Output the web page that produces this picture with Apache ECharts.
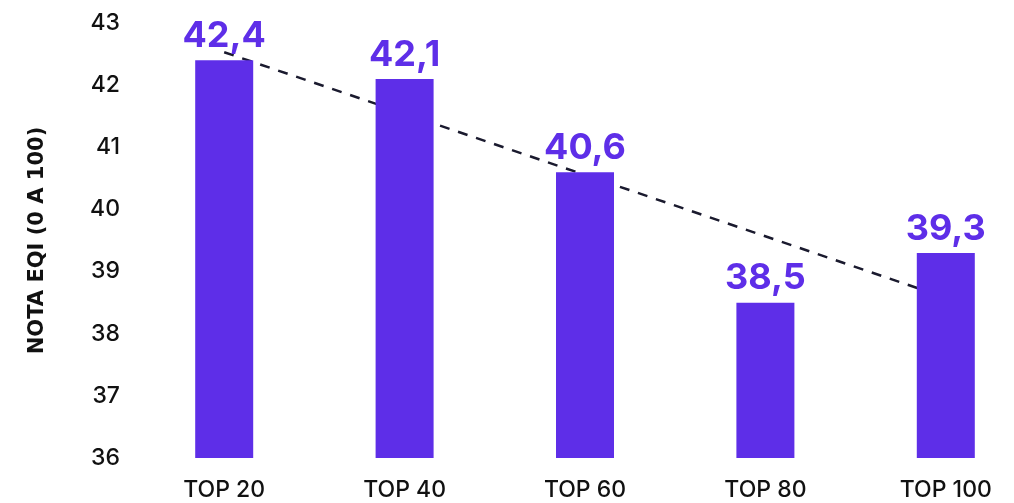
<!DOCTYPE html>
<html>
<head>
<meta charset="utf-8">
<script src="https://cdn.jsdelivr.net/npm/echarts@6/dist/echarts.min.js"></script>
<style>
html,body{margin:0;padding:0;background:#fff;}
#chart{width:1014px;height:503px;}
</style>
</head>
<body>
<div id="chart"></div>
<script>
const categories = ['TOP 20', 'TOP 40', 'TOP 60', 'TOP 80', 'TOP 100'];
const values = [42.4, 42.1, 40.6, 38.5, 39.3];
const trendStart = 42.53;
const trendEnd = 38.58;
const yTicks = [36, 37, 38, 39, 40, 41, 42, 43];

const purple = '#5E2EE8';
const font = 'Inter, "Noto Sans", sans-serif';

const chart = echarts.init(document.getElementById('chart'), null, {renderer: 'canvas'});
chart.setOption({
  animation: false,
  grid: {left: 134, top: 23, width: 902, height: 435, containLabel: false, outerBoundsMode: 'none'},
  xAxis: {
    type: 'category',
    data: categories,
    axisLine: {show: false},
    axisTick: {show: false},
    axisLabel: {color: '#111', fontSize: 23, fontWeight: 500, fontFamily: font, margin: 21}
  },
  yAxis: {
    type: 'value',
    min: yTicks[0],
    max: yTicks[yTicks.length - 1],
    interval: 1,
    splitLine: {show: false},
    axisLine: {show: false},
    axisTick: {show: false},
    axisLabel: {color: '#111', fontSize: 23, fontWeight: 500, fontFamily: font, margin: 14},
    name: 'NOTA EQI (0 A 100)',
    nameLocation: 'middle',
    nameGap: 86,
    nameRotate: 90,
    nameTextStyle: {color: '#111', fontSize: 21, fontWeight: 'bold', fontFamily: '"DejaVu Sans", sans-serif'}
  },
  series: [
    {
      type: 'line',
      data: [[0, trendStart], [4, trendEnd]],
      symbol: 'none',
      z: 1,
      lineStyle: {color: '#1a1a2e', width: 2.5, type: [10, 9]}
    },
    {
      type: 'bar',
      data: values,
      barWidth: 58,
      z: 2,
      itemStyle: {color: purple},
      label: {
        show: true,
        position: 'top',
        distance: 6,
        color: purple,
        fontSize: 36,
        fontWeight: 'bold',
        fontFamily: font,
        formatter: p => String(p.value).replace('.', ',')
      }
    }
  ]
});
</script>
</body>
</html>
